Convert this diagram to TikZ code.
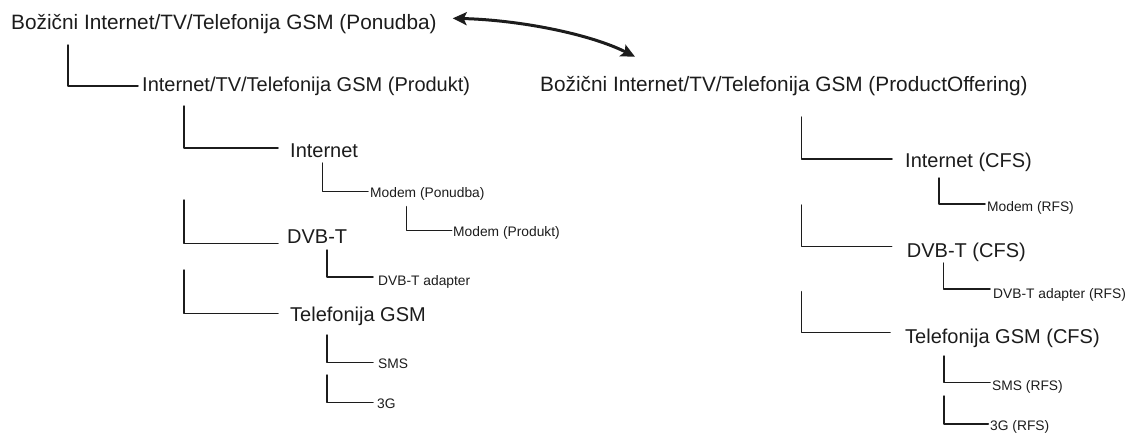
\documentclass[tikz,border=0pt]{standalone}
\usepackage{fontspec}
\setmainfont{Liberation Sans}
\usetikzlibrary{arrows.meta,calc}
\definecolor{ink}{HTML}{1C1C1C}

% #1 child node, #2 gap before the text, #3 rise of the elbow above the baseline,
% #4 length of the horizontal arm, #5 length of the vertical arm
\newcommand\elbow[5]{%
  \draw[link] ([xshift=-#2pt,yshift=#3pt]#1.base west) -- ++(-#4,0) -- ++(0,-#5);}

\begin{document}
\begin{tikzpicture}[x=1pt,y=-1pt,
  every node/.style={anchor=base west, inner sep=0pt, text=ink},
  big/.style={font=\fontsize{20}{24}\selectfont},
  root/.style={font=\fontsize{20.8}{25}\selectfont},
  small/.style={font=\fontsize{13.8}{16}\selectfont},
  link/.style={draw=ink, line width=1.5pt, line cap=round, line join=round},
  pairing/.style={draw=ink, line width=3pt, line cap=round,
    {Stealth[length=14pt,width=13pt,inset=3pt]}-{Stealth[length=14pt,width=13pt,inset=3pt]}}]
\useasboundingbox (0,0) rectangle (1129,434);

% offer tree
\node[root] (rootL) at (11,29.5) {Božični Internet/TV/Telefonija GSM (Ponudba)};
\node[big] (prod) at (142,91.5) {Internet/TV/Telefonija GSM (Produkt)};
\node[big] (inet) at (290,157) {Internet};
\node[small] (modemO) at (370,197) {Modem (Ponudba)};
\node[small] (modemP) at (453,236) {Modem (Produkt)};
\node[big] (dvbt) at (287,243.5) {DVB-T};
\node[small] (adapter) at (378,285) {DVB-T adapter};
\node[big] (gsm) at (290,321.7) {Telefonija GSM};
\node[small] (sms) at (378,368) {SMS};
\node[small] (g3) at (377,408) {3G};

% product offering tree
\node[root] (rootR) at (540,91.5) {Božični Internet/TV/Telefonija GSM (ProductOffering)};
\node[big] (inetC) at (905,167) {Internet (CFS)};
\node[small] (modemR) at (987,211.5) {Modem (RFS)};
\node[big] (dvbtC) at (906.7,257) {DVB-T (CFS)};
\node[small] (adapterR) at (993,298.5) {DVB-T adapter (RFS)};
\node[big] (gsmC) at (905,343.5) {Telefonija GSM (CFS)};
\node[small] (smsR) at (992,390.5) {SMS (RFS)};
\node[small] (g3R) at (990,430.7) {3G (RFS)};

% tree elbows
\elbow{prod}{4}{5.5}{70}{41}
\elbow{inet}{12}{9}{94}{42}
\elbow{modemO}{2}{5.5}{45.3}{28.5}
\elbow{modemP}{1.3}{5.3}{45}{24}
\elbow{dvbt}{9}{0}{94}{43.5}
\elbow{adapter}{5}{8}{46}{27}
\elbow{gsm}{12}{8.4}{94}{43.3}
\elbow{sms}{5}{5.3}{46}{27.7}
\elbow{g3}{4}{5.3}{46}{27.7}
\elbow{inetC}{13}{8}{90.3}{42}
\elbow{modemR}{2}{7.5}{46}{26}
\elbow{dvbtC}{15}{10.3}{90}{41.7}
\elbow{adapterR}{3}{9.5}{46.5}{26}
\elbow{gsmC}{15}{11.2}{88.3}{40.6}
\elbow{smsR}{2}{7.8}{46}{26.7}
\elbow{g3R}{1.7}{6.7}{44.3}{28}

% link between the two roots
\coordinate (aL) at ([xshift=441.7pt,yshift=11.2pt]rootL.base west);
\coordinate (aR) at ([xshift=95pt,yshift=34.8pt]rootR.base west);
\draw[pairing] (aL) .. controls ($(aL)+(67,1.7)$) and ($(aR)+(-45,-22.7)$) .. (aR);
\end{tikzpicture}
\end{document}
